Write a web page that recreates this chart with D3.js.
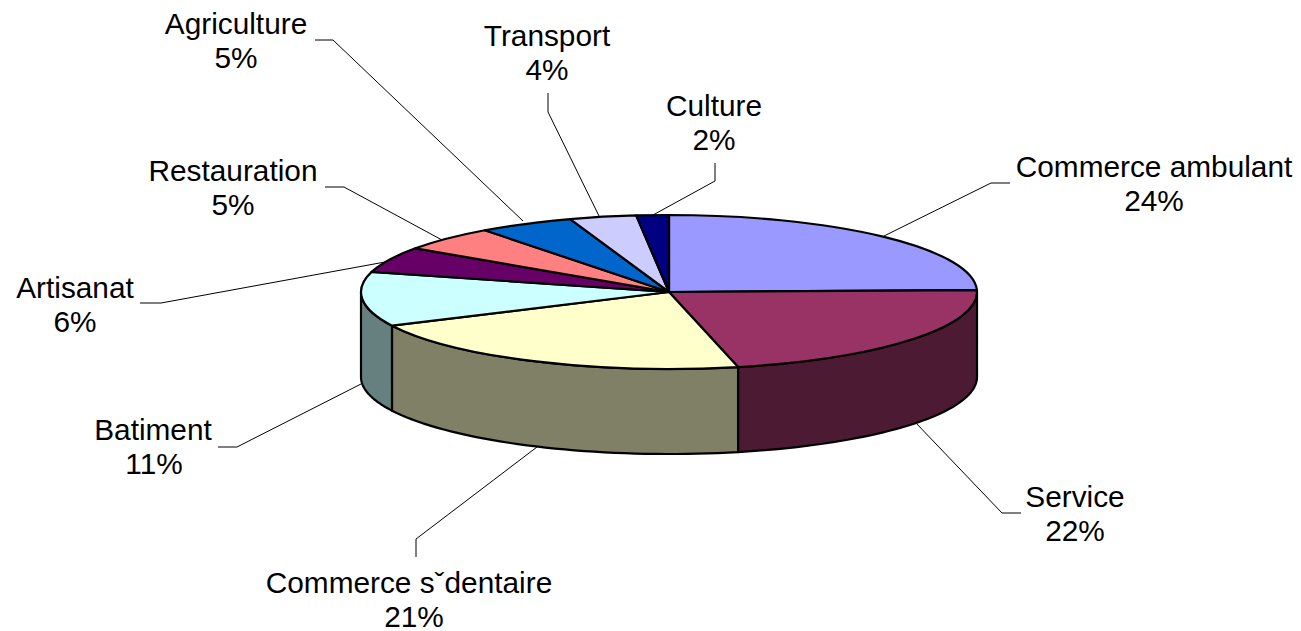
<!DOCTYPE html>
<html>
<head>
<meta charset="utf-8">
<script src="https://cdn.jsdelivr.net/npm/d3@7"></script>
<style>
  html, body { margin: 0; padding: 0; background: #fff; overflow: hidden; }
  text { font-family: "Liberation Sans", Arial, sans-serif; font-size: 29.8px; fill: #000; }
</style>
</head>
<body>
<svg></svg>
<script>
const width = 1301;
const height = 631;

// chart data, shares (the printed labels are rounded)
const categories = ["Commerce ambulant", "Service", "Commerce sˇdentaire", "Batiment", "Artisanat", "Restauration", "Agriculture", "Transport", "Culture"];
const shares = [24.6, 21.8, 21.4, 11.4, 5.4, 5.2, 5.0, 3.5, 1.7];
const percentLabels = ["24%", "22%", "21%", "11%", "6%", "5%", "5%", "4%", "2%"];
const topColors = ["#9999ff", "#993366", "#ffffcc", "#ccffff", "#660066", "#ff8080", "#0066cc", "#ccccff", "#000080"];
const sideColors = ["#4d4d80", "#4d1a33", "#808066", "#668080", "#330033", "#804040", "#003366", "#666680", "#000040"];

// label layout: text centre, first baseline, and leader line points
const labelX = [1154, 1075, 409, 153, 75, 233, 236, 547, 714];
const percentX = [1154, 1075, 414, 154, 75, 233, 236, 547, 714];
const labelY = [177, 507, 593, 440, 298, 181, 34, 46, 116];
const leaders = [
  [[884, 236], [991, 183], [1010, 183]],
  [[915, 422], [1002, 513], [1021, 513]],
  [[537, 447], [416, 539], [416, 557]],
  [[361, 384], [237, 447], [218, 447]],
  [[385, 262], [161, 303], [140, 303]],
  [[442, 240], [344, 187], [325, 187]],
  [[523, 221], [333, 40], [315, 40]],
  [[599, 216], [548, 112], [548, 93]],
  [[653, 215], [715, 181], [715, 163]]
];

const cx = 669, cy = 292;
const rx = 308, ry = 77;
const depth = 85;

const svg = d3.select("svg")
    .attr("width", width)
    .attr("height", height)
    .style("display", "block");

const pieData = d3.pie().sort(null).value(d => d)(shares);
pieData.forEach((d, i) => d.index = i);

// leader lines go under the pie
const line = d3.line();
svg.append("g").selectAll("path")
    .data(leaders)
    .enter().append("path")
    .attr("d", d => line(d))
    .attr("fill", "none")
    .attr("stroke", "#000")
    .attr("stroke-width", 1);

// side walls, only the front half of the pie shows them
function wallPath(a0, a1) {
  const pts = d3.range(0, 41).map(k => a0 + (a1 - a0) * k / 40);
  const topEdge = pts.map(a => [cx + rx * Math.sin(a), cy - ry * Math.cos(a)]);
  const bottomEdge = pts.slice().reverse().map(a => [cx + rx * Math.sin(a), cy - ry * Math.cos(a) + depth]);
  return line(topEdge.concat(bottomEdge)) + "Z";
}

const frontStart = Math.PI / 2, frontEnd = Math.PI * 1.5;
const front = pieData.filter(d => d.endAngle > frontStart && d.startAngle < frontEnd);

svg.append("g").selectAll("path")
    .data(front)
    .enter().append("path")
    .attr("d", d => wallPath(Math.max(d.startAngle, frontStart), Math.min(d.endAngle, frontEnd)))
    .attr("fill", d => sideColors[d.index])
    .attr("stroke", "#000")
    .attr("stroke-width", 2.2)
    .attr("stroke-linejoin", "round");

// top of the pie, a circle squashed into an ellipse
const arc = d3.arc().innerRadius(0).outerRadius(rx);
svg.append("g")
    .attr("transform", `translate(${cx},${cy}) scale(1,${ry / rx})`)
    .selectAll("path")
    .data(pieData)
    .enter().append("path")
    .attr("d", arc)
    .attr("fill", d => topColors[d.index])
    .attr("stroke", "#000")
    .attr("stroke-width", 2.2)
    .attr("stroke-linejoin", "round")
    .attr("vector-effect", "non-scaling-stroke");

// labels, name then percent
const labels = svg.append("g").selectAll("g")
    .data(categories)
    .enter().append("g");

labels.append("text")
    .attr("x", (d, i) => labelX[i])
    .attr("y", (d, i) => labelY[i])
    .attr("text-anchor", "middle")
    .text(d => d);

labels.append("text")
    .attr("x", (d, i) => percentX[i])
    .attr("y", (d, i) => labelY[i] + 33.5)
    .attr("text-anchor", "middle")
    .text((d, i) => percentLabels[i]);
</script>
</body>
</html>
